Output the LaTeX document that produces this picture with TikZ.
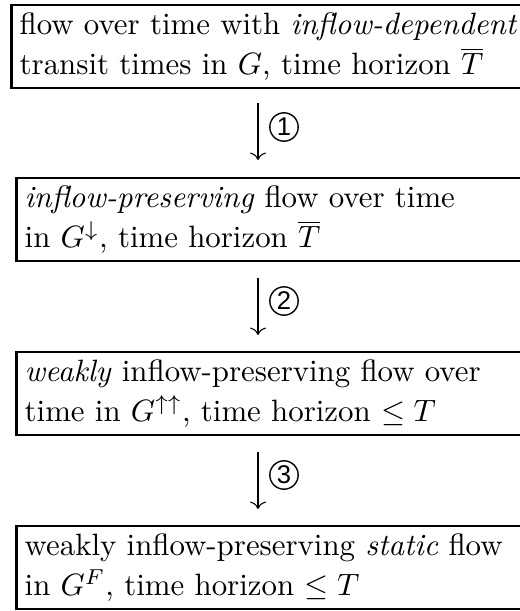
\documentclass[tikz,border=0pt]{standalone}
\usepackage{fontspec}
\newfontfamily\circfont{Liberation Sans}
\usetikzlibrary{arrows.meta}
\begin{document}
\begin{tikzpicture}[x=0.324pt,y=-0.324pt,
  flowbox/.style={draw, line width=0.75pt, anchor=north west, rectangle,
    inner xsep=2.6pt, inner ysep=0pt, minimum height=26.9pt,
    text width=180pt, align=left, font=\fontsize{10}{13}\selectfont},
  conn/.style={line width=0.35pt, -{To[length=2.4pt,width=5.2pt]}},
  steplabel/.style={draw, circle, line width=0.45pt, minimum size=9.2pt,
    inner sep=0pt, font=\circfont\fontsize{8.3}{9}\selectfont}]
\useasboundingbox (0,0) rectangle (520,611);
\clip (0,0) rectangle (520,611);
\node[flowbox] (b1) at (10.5,4) {\strut flow over time with \textit{inflow-dependent}\\ transit times in $G$, time horizon $\overline{T}$\strut};
\node[flowbox] (b2) at (15.5,177) {\strut\textit{inflow-preserving} flow over time\\ in $G^{\downarrow}$, time horizon $\overline{T}$\strut};
\node[flowbox] (b3) at (15.5,351) {\strut\textit{weakly} inflow-preserving flow over\\ time in $G^{\uparrow\uparrow}$, time horizon $\le T$\strut};
\node[flowbox] (b4) at (15.5,525) {\strut weakly inflow-preserving \textit{static} flow\\ in $G^F$, time horizon $\le T$\strut};
\coordinate (s1) at (258,103);
\coordinate (e1) at (258,160);
\coordinate (s2) at (258,278);
\coordinate (e2) at (258,335);
\coordinate (s3) at (258,452);
\coordinate (e3) at (258,509);
\draw[conn] (s1) -- (e1);
\draw[conn] (s2) -- (e2);
\draw[conn] (s3) -- (e3);
\node[steplabel] (l1) at (284,127) {1};
\node[steplabel] (l2) at (284,301) {2};
\node[steplabel] (l3) at (284,475) {3};
\end{tikzpicture}
\end{document}
